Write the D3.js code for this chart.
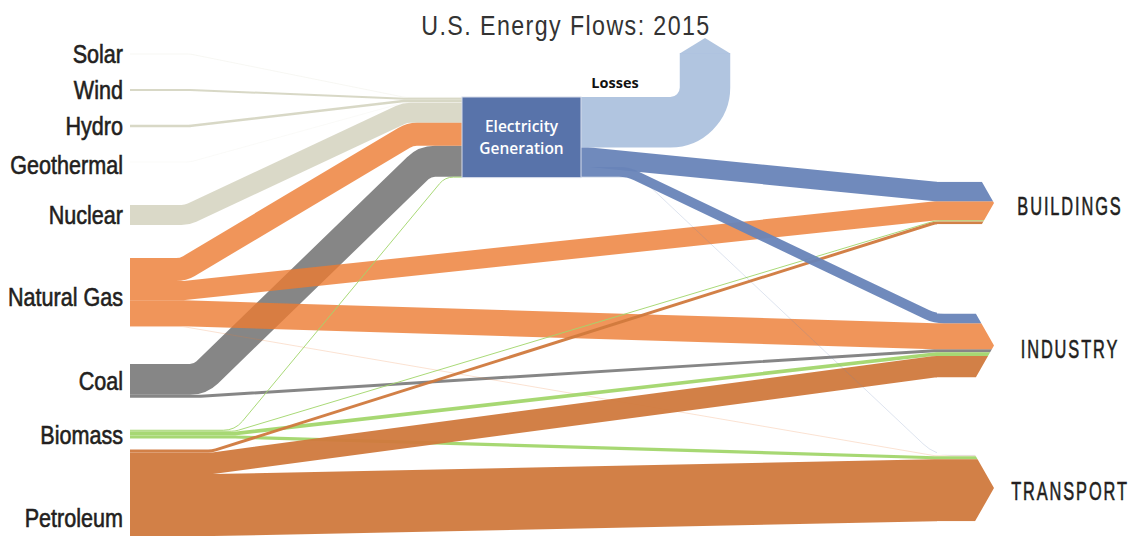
<!DOCTYPE html>
<html>
<head>
<meta charset="utf-8">
<script src="https://cdn.jsdelivr.net/npm/d3@7"></script>
<style>
  body { margin: 0; background: #fff; }
  svg { display: block; }
</style>
</head>
<body>
<div id="c1"></div>
<script>
// Data (quads)
var sources = ["Solar", "Wind", "Hydro", "Geothermal", "Nuclear", "Natural Gas", "Coal", "Biomass", "Petroleum"];
var sectors = ["BUILDINGS", "INDUSTRY", "TRANSPORT"];

// flows from each source, same order as sources
var toElectricity = [0.3, 0.8, 1.0, 0.2, 8.2, 9.4, 12.6, 0.4, 0];
var toBuildings   = [0, 0, 0, 0, 0, 7.8, 0, 0.4, 1.2];
var toIndustry    = [0, 0, 0, 0, 0, 10.6, 1.2, 1.5, 8.8];
var toTransport   = [0, 0, 0, 0, 0, 0.3, 0, 1.3, 25.3];

// electricity generation outputs
var electricityLosses = 20.6;
var electricityToSectors = [8.0, 4.0, 0.3];

var title = "U.S. Energy Flows: 2015";

// Style / layout
var w = 1132, h = 539;
var colorOf = {
    "Solar": "#d9d9c8", "Wind": "#d6d6c3", "Hydro": "#d6d6c3", "Geothermal": "#dcdccd",
    "Nuclear": "#d8d7c5", "Natural Gas": "#ec7b31", "Coal": "#808080",
    "Biomass": "#a2d66c", "Petroleum": "#d0793d", "Electricity": "#6884b8"
};
var opacityOf = {"Natural Gas": 0.8};
var drawOrder = ["Coal", "Solar", "Wind", "Hydro", "Geothermal", "Nuclear", "Natural Gas", "Biomass", "Petroleum", "Electricity"];
var lossColor = "#adc2de";
var boxColor = "#5873aa";
var textFont = "'Liberation Sans', Arial, sans-serif";
var squeeze = 0.83;

var xLeft = 130, boxX0 = 462, boxX1 = 581, boxTop = 97;
var xJoin = 935, xTip = 994, tipSlope = 0.57;
var lossX = 705, lossTop = 53, lossHead = 15;

// where each source band leaves its flat start, and where it lands flat at the box
var bendOut = {"Solar": 190, "Wind": 190, "Hydro": 190, "Geothermal": 190, "Nuclear": 187,
               "Natural Gas": 183, "Coal": 200, "Biomass": 235, "Petroleum": 212};
var bendIn = {"Solar": 405, "Wind": 405, "Hydro": 405, "Geothermal": 405, "Nuclear": 405,
              "Natural Gas": 410, "Coal": 425, "Biomass": 445, "Petroleum": 410};
var elecBend = {"BUILDINGS": 590, "INDUSTRY": 628, "TRANSPORT": 640};

var k = d3.scaleLinear().domain([0, 1]).range([0, 2.45]);
var smallY = d3.scalePoint().domain(["Solar", "Wind", "Hydro", "Geothermal"]).range([54, 162]);
var sectorY = d3.scalePoint().domain(sectors).range([203, 488]);
var bigTop = 205;
var bigGap = {"Natural Gas": 33, "Coal": 37, "Biomass": 32, "Petroleum": 11};
var labelShift = {"Petroleum": 25, "Natural Gas": 4, "Geothermal": 3};

// build links
var links = [];
sources.forEach(function (s, i) {
    [["Electricity", toElectricity[i]], ["BUILDINGS", toBuildings[i]],
     ["INDUSTRY", toIndustry[i]], ["TRANSPORT", toTransport[i]]].forEach(function (t) {
        if (t[1] > 0) links.push({source: s, target: t[0], value: t[1], color: colorOf[s]});
    });
});
links.push({source: "Electricity", target: "Losses", value: electricityLosses, color: lossColor});
sectors.forEach(function (s, i) {
    links.push({source: "Electricity", target: s, value: electricityToSectors[i], color: colorOf["Electricity"]});
});
links.forEach(function (l) { l.width = k(l.value); });

// node positions
var nodes = {};
var cursor = bigTop;
sources.forEach(function (s) {
    var hh = d3.sum(links.filter(function (l) { return l.source == s; }), function (l) { return l.width; });
    var top;
    if (smallY.domain().indexOf(s) >= 0) {
        top = smallY(s) - hh / 2;
    } else {
        if (bigGap[s]) cursor += bigGap[s];
        top = cursor;
        cursor += hh;
    }
    nodes[s] = {top: top, h: hh};
});
var elecIn = d3.sum(links.filter(function (l) { return l.target == "Electricity"; }), function (l) { return l.width; });
nodes["Electricity"] = {top: boxTop, h: elecIn};
nodes["Losses"] = {top: boxTop, h: k(electricityLosses)};
sectors.forEach(function (s) {
    var hh = d3.sum(links.filter(function (l) { return l.target == s; }), function (l) { return l.width; });
    nodes[s] = {top: sectorY(s) - hh / 2, h: hh};
});

// stack link ends
var order = ["Electricity"].concat(sources);
Object.keys(nodes).forEach(function (n) {
    var off = nodes[n].top;
    links.filter(function (l) { return l.source == n; }).forEach(function (l) {
        l.y0 = off + l.width / 2;
        off += l.width;
    });
    off = nodes[n].top;
    links.filter(function (l) { return l.target == n; })
        .sort(function (a, b) { return order.indexOf(a.source) - order.indexOf(b.source); })
        .forEach(function (l) {
            l.y1 = off + l.width / 2;
            off += l.width;
        });
});

// polyline with rounded corners
function roundPath(pts, r) {
    var p = d3.path();
    p.moveTo(pts[0][0], pts[0][1]);
    for (var i = 1; i < pts.length - 1; i++) {
        var a = pts[i - 1], b = pts[i], c = pts[i + 1];
        var l1 = Math.hypot(b[0] - a[0], b[1] - a[1]);
        var l2 = Math.hypot(c[0] - b[0], c[1] - b[1]);
        var dot = ((b[0] - a[0]) * (c[0] - b[0]) + (b[1] - a[1]) * (c[1] - b[1])) / (l1 * l2);
        var turn = Math.acos(Math.max(-1, Math.min(1, dot)));
        if (turn < 1e-3) { p.lineTo(b[0], b[1]); continue; }
        var rr = Math.min(r, 0.5 * Math.min(l1, l2) / Math.tan(turn / 2));
        p.arcTo(b[0], b[1], c[0], c[1], rr);
    }
    var e = pts[pts.length - 1];
    p.lineTo(e[0], e[1]);
    return p.toString();
}

function linkPath(l) {
    if (l.target == "Electricity")
        return roundPath([[xLeft, l.y0], [bendOut[l.source], l.y0], [bendIn[l.source], l.y1], [boxX0, l.y1]], 25);
    if (l.target == "Losses")
        return roundPath([[boxX1, l.y0], [lossX, l.y0], [lossX, lossTop]], 45);
    if (l.source == "Electricity")
        return roundPath([[boxX1, l.y0], [elecBend[l.target], l.y0], [xJoin, l.y1], [xTip, l.y1]], 40);
    return roundPath([[xLeft, l.y0], [bendOut[l.source], l.y0], [xJoin, l.y1], [xTip, l.y1]], 25);
}

function linkOpacity(l) {
    if (l.value < 0.35) return 0.3;
    return opacityOf[l.source] || 0.95;
}

var svg = d3.select("#c1").append("svg")
    .attr("width", w)
    .attr("height", h)
    .style("font-family", textFont);

// clip: everything left of the join, plus an arrow per sector
var clip = svg.append("defs").append("clipPath").attr("id", "arrows");
clip.append("rect").attr("x", 0).attr("y", 0).attr("width", xJoin + 2).attr("height", h);
sectors.forEach(function (s) {
    var n = nodes[s], half = n.h / 2, c = n.top + half;
    var cx = xTip - tipSlope * half;
    clip.append("polygon").attr("points", [[xJoin - 5, n.top], [cx, n.top], [xTip, c], [cx, n.top + n.h], [xJoin - 5, n.top + n.h]].join(" "));
});

var linkG = svg.append("g").attr("clip-path", "url(#arrows)");
linkG.selectAll("path")
    .data(links.slice().sort(function (a, b) { return drawOrder.indexOf(a.source) - drawOrder.indexOf(b.source); }))
    .enter()
    .append("path")
    .attr("d", linkPath)
    .attr("fill", "none")
    .attr("stroke", function (d) { return d.color; })
    .attr("stroke-width", function (d) { return d.width; })
    .attr("stroke-opacity", linkOpacity);

// losses arrowhead
var lw = nodes["Losses"].h;
svg.append("polygon")
    .attr("points", [[lossX - lw / 2, lossTop + 0.5], [lossX, lossTop - lossHead], [lossX + lw / 2, lossTop + 0.5]].join(" "))
    .attr("fill", lossColor)
    .attr("fill-opacity", 0.95);

// electricity box
svg.append("rect")
    .attr("x", boxX0)
    .attr("y", boxTop)
    .attr("width", boxX1 - boxX0)
    .attr("height", nodes["Electricity"].h)
    .attr("fill", boxColor)
    .attr("stroke", "#d5dcea")
    .attr("stroke-width", 1);

svg.selectAll("text.box")
    .data(["Electricity", "Generation"])
    .enter()
    .append("text")
    .attr("class", "box")
    .attr("x", (boxX0 + boxX1) / 2)
    .attr("y", function (d, i) { return boxTop + 30 + i * 22; })
    .attr("dy", "0.35em")
    .attr("text-anchor", "middle")
    .style("font-family", "'Open Sans', sans-serif")
    .style("font-weight", 600)
    .style("font-size", "15.5px")
    .attr("fill", "#fff")
    .text(function (d) { return d; });

svg.append("text")
    .attr("x", 615)
    .attr("y", 83)
    .attr("dy", "0.35em")
    .attr("text-anchor", "middle")
    .style("font-family", "'Open Sans', sans-serif")
    .style("font-weight", 700)
    .style("font-size", "14.5px")
    .attr("fill", "#111")
    .text("Losses");

// source labels (narrowed to a condensed look)
svg.selectAll("text.src")
    .data(sources)
    .enter()
    .append("text")
    .attr("class", "src")
    .attr("transform", function (d) {
        var y = nodes[d].top + nodes[d].h / 2 + (labelShift[d] || 0);
        return "translate(123," + y + ") scale(" + squeeze + ",1)";
    })
    .attr("dy", "0.36em")
    .attr("text-anchor", "end")
    .style("font-size", "26px")
    .attr("fill", "#231f20")
    .attr("stroke", "#231f20")
    .attr("stroke-width", 0.6)
    .text(function (d) { return d; });

// sector labels
svg.selectAll("text.sec")
    .data(sectors)
    .enter()
    .append("text")
    .attr("class", "sec")
    .attr("transform", function (d) { return "translate(1070," + (sectorY(d) + 3) + ") scale(0.63,1)"; })
    .attr("dy", "0.36em")
    .attr("text-anchor", "middle")
    .style("font-size", "26px")
    .style("letter-spacing", "3px")
    .attr("fill", "#231f20")
    .attr("stroke", "#231f20")
    .attr("stroke-width", 0.6)
    .text(function (d) { return d; });

svg.append("text")
    .attr("transform", "translate(566,35) scale(" + squeeze + ",1)")
    .attr("text-anchor", "middle")
    .style("font-size", "28px")
    .style("letter-spacing", "1.7px")
    .attr("fill", "#333")
    .text(title);
</script>
</body>
</html>
